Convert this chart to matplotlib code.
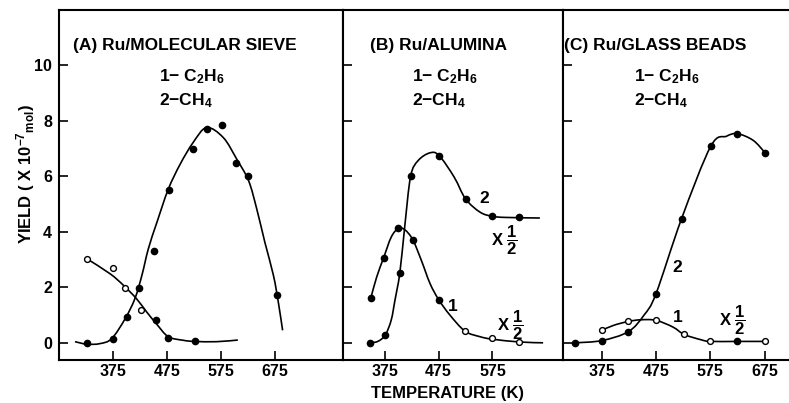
import matplotlib
matplotlib.use('Agg')
import matplotlib.pyplot as plt
from matplotlib.path import Path
from matplotlib.patches import PathPatch

plt.rcParams['font.family'] = ['Liberation Sans', 'DejaVu Sans']
plt.rcParams['font.weight'] = 'bold'
plt.rcParams['axes.labelweight'] = 'bold'
plt.rcParams['mathtext.fontset'] = 'custom'
plt.rcParams['mathtext.rm'] = 'Liberation Sans:bold'
plt.rcParams['mathtext.it'] = 'Liberation Sans:bold'
plt.rcParams['mathtext.bf'] = 'Liberation Sans:bold'
plt.rcParams['mathtext.default'] = 'rm'

# ---- data (temperature K, yield x1e-7 mol) ----
# (A) Ru/molecular sieve
a_c2h6_t = [326, 375, 397, 426, 454, 476, 527]
a_c2h6_y = [3.03, 2.70, 1.99, 1.20, 0.81, 0.18, 0.07]
a_c2h6_fill = [False, False, False, False, True, True, True]
a_ch4_t = [326, 375, 400, 423, 450, 478, 522, 548, 576, 603, 624, 679]
a_ch4_y = [0.0, 0.15, 0.93, 1.98, 3.30, 5.50, 6.98, 7.70, 7.86, 6.50, 6.00, 1.73]
# fitted curves as drawn
a_c2h6_curve_t = [326, 369, 394, 418, 437, 456, 477, 505, 526, 566, 606]
a_c2h6_curve_y = [3.03, 2.49, 2.07, 1.59, 1.11, 0.66, 0.22, 0.09, 0.05, 0.04, 0.10]
a_ch4_curve_t = [304, 326, 350, 372, 397, 415, 428, 440, 456, 477, 499, 523, 548,
                 579, 604, 626, 641, 656, 672, 681, 689]
a_ch4_curve_y = [0.04, -0.05, -0.03, 0.15, 0.87, 1.59, 2.43, 3.39, 4.35, 5.54, 6.44,
                 7.22, 7.76, 7.40, 6.62, 5.84, 4.83, 3.63, 2.43, 1.47, 0.45]

# (B) Ru/alumina (both x 1/2)
b_c2h6_t = [349, 373, 400, 427, 475, 524, 575, 625]
b_c2h6_y = [1.60, 3.07, 4.14, 3.72, 1.56, 0.42, 0.16, 0.03]
b_c2h6_fill = [True, True, True, True, True, False, False, False]
b_ch4_t = [347, 376, 403, 423, 476, 525, 575, 624]
b_ch4_y = [0.0, 0.28, 2.52, 6.00, 6.75, 5.19, 4.57, 4.52]
b_c2h6_curve_t = [349, 360, 373, 387, 400, 412, 427, 443, 459, 475, 496, 524, 552,
                  575, 625, 669]
b_c2h6_curve_y = [1.60, 2.37, 3.07, 3.81, 4.12, 4.08, 3.72, 2.97, 2.14, 1.56, 1.00,
                  0.42, 0.22, 0.13, 0.03, 0.0]
b_ch4_curve_t = [347, 362, 376, 387, 394, 403, 412, 423, 437, 459, 476, 504, 525,
                 552, 575, 601, 663]
b_ch4_curve_y = [0.0, 0.05, 0.28, 0.82, 1.54, 2.52, 4.17, 6.00, 6.57, 6.85, 6.75,
                 5.97, 5.19, 4.71, 4.56, 4.52, 4.50]

# (C) Ru/glass beads (C2H6 x 1/2)
c_c2h6_t = [375, 424, 475, 527, 575, 625, 676]
c_c2h6_y = [0.45, 0.77, 0.81, 0.30, 0.05, 0.05, 0.05]
c_c2h6_fill = [False, False, False, False, False, True, False]
c_ch4_t = [326, 375, 424, 475, 522, 576, 625, 676]
c_ch4_y = [0.0, 0.08, 0.38, 1.75, 4.47, 7.09, 7.54, 6.85]
c_c2h6_curve_t = [375, 397, 424, 447, 475, 506, 527, 558, 575, 625, 676]
c_c2h6_curve_y = [0.45, 0.63, 0.77, 0.83, 0.81, 0.57, 0.30, 0.11, 0.05, 0.05, 0.05]
c_ch4_curve_t = [326, 375, 424, 453, 475, 522, 576, 605, 625, 654, 676]
c_ch4_curve_y = [0.0, 0.08, 0.40, 1.00, 1.77, 4.47, 7.09, 7.45, 7.54, 7.30, 6.85]

fig = plt.figure(figsize=(7.89, 4.03), dpi=100)
W, H = 789.0, 403.0
bot, top = 360.0, 10.0

def make_ax(x0, x1, xlim, xticks, show_right=True):
    ax = fig.add_axes([x0 / W, (H - bot) / H, (x1 - x0) / W, (bot - top) / H])
    ax.set_xlim(*xlim)
    ax.set_ylim(-0.62, 12.0)
    ax.set_xticks(xticks)
    ax.set_yticks([0, 2, 4, 6, 8, 10])
    ax.tick_params(direction='in', length=6.5, width=1.2, labelsize=11.5)
    ax.tick_params(axis='x', pad=3)
    ax.tick_params(axis='y', pad=5)
    for s in ax.spines.values():
        s.set_linewidth(1.5)
    ax.spines['right'].set_visible(show_right)
    return ax

def smooth_curve(ax, ts, ys):
    # curve through the read points, drawn as cubic bezier segments
    pts = list(zip(ts, ys))
    n = len(pts)
    verts = [pts[0]]
    codes = [Path.MOVETO]
    for i in range(n - 1):
        p0 = pts[max(i - 1, 0)]
        p1 = pts[i]
        p2 = pts[i + 1]
        p3 = pts[min(i + 2, n - 1)]
        c1 = (p1[0] + (p2[0] - p0[0]) / 6, p1[1] + (p2[1] - p0[1]) / 6)
        c2 = (p2[0] - (p3[0] - p1[0]) / 6, p2[1] - (p3[1] - p1[1]) / 6)
        verts += [c1, c2, p2]
        codes += [Path.CURVE4] * 3
    ax.add_patch(PathPatch(Path(verts, codes), fill=False, lw=1.2,
                           edgecolor='black', zorder=2))

def draw_points(ax, ts, ys, fills):
    for t, y, f in zip(ts, ys, fills):
        ax.plot(t, y, 'o', ms=4.5 if f else 4.2, mfc='black' if f else 'white',
                mec='black', mew=1.0, zorder=3)

def header(ax, x, title):
    ax.text(x[0], 10.54, title, fontsize=12.5, ha='left', va='baseline')
    ax.text(x[1], 9.42, r'1$-$ C$_2$H$_6$', fontsize=12.5, ha='left', va='baseline')
    ax.text(x[1], 8.55, r'2$-$CH$_4$', fontsize=12.5, ha='left', va='baseline')

half = r'X $\dfrac{1}{2}$'

# panel A
axA = make_ax(59, 343, (274.3, 801), [375, 475, 575, 675])
smooth_curve(axA, a_c2h6_curve_t, a_c2h6_curve_y)
smooth_curve(axA, a_ch4_curve_t, a_ch4_curve_y)
draw_points(axA, a_c2h6_t, a_c2h6_y, a_c2h6_fill)
draw_points(axA, a_ch4_t, a_ch4_y, [True] * len(a_ch4_t))
header(axA, (300, 459), '(A) Ru/MOLECULAR SIEVE')
axA.set_ylabel(r'YIELD ( X 10$^{-7}$$_{\mathrm{mol}}$)', fontsize=12)
axA.yaxis.set_label_coords(-0.077, 0.53)

# panel B
axB = make_ax(343, 562.5, (297.5, 705), [375, 475, 575])
smooth_curve(axB, b_c2h6_curve_t, b_c2h6_curve_y)
smooth_curve(axB, b_ch4_curve_t, b_ch4_curve_y)
draw_points(axB, b_c2h6_t, b_c2h6_y, b_c2h6_fill)
draw_points(axB, b_ch4_t, b_ch4_y, [True] * len(b_ch4_t))
header(axB, (347, 425), '(B) Ru/ALUMINA')
axB.set_yticklabels([])
axB.text(559, 5.2, '2', fontsize=12.5, ha='center', va='center')
axB.text(501, 1.3, '1', fontsize=12.5, ha='center', va='center')
axB.text(598, 3.7, half, fontsize=12, ha='center', va='center')
axB.text(609, 0.64, half, fontsize=12, ha='center', va='center')
axB.set_xlabel('TEMPERATURE (K)', fontsize=12)
axB.xaxis.set_label_coords(0.475, -0.075)

# panel C
axC = make_ax(562.5, 789, (302.8, 720), [375, 475, 575, 675], show_right=False)
smooth_curve(axC, c_c2h6_curve_t, c_c2h6_curve_y)
smooth_curve(axC, c_ch4_curve_t, c_ch4_curve_y)
draw_points(axC, c_c2h6_t, c_c2h6_y, c_c2h6_fill)
draw_points(axC, c_ch4_t, c_ch4_y, [True] * len(c_ch4_t))
header(axC, (305, 434), '(C) Ru/GLASS BEADS')
axC.set_yticklabels([])
axC.text(515, 2.7, '2', fontsize=12.5, ha='center', va='center')
axC.text(516, 0.9, '1', fontsize=12.5, ha='center', va='center')
axC.text(616, 0.8, half, fontsize=12, ha='center', va='center')

fig.savefig('out.png', dpi=100)
